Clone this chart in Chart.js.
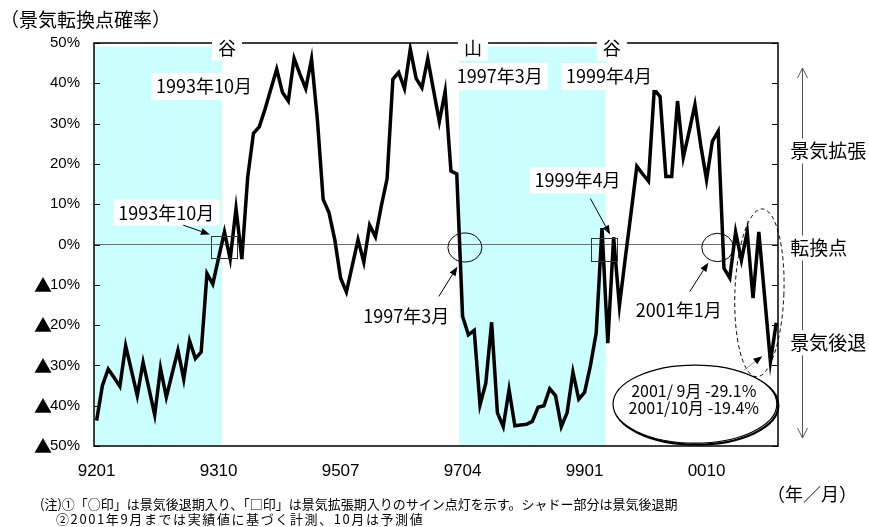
<!DOCTYPE html>
<html lang="ja">
<head>
<meta charset="utf-8">
<title>景気転換点確率</title>
<script src="https://cdn.jsdelivr.net/npm/chart.js@4/dist/chart.umd.min.js"></script>
<style>
  html, body { margin: 0; padding: 0; background: #fff; overflow: hidden; }
  canvas { display: block; }
</style>
</head>
<body>
<canvas id="c" width="869" height="527"></canvas>
<script>
// 月次カテゴリ：1992年1月〜2001年10月（YYMM表記）
const months = [];
for (let y = 1992, m = 1; y * 100 + m <= 200110; ) {
  months.push(String(y % 100).padStart(2, '0') + String(m).padStart(2, '0'));
  if (++m > 12) { m = 1; y++; }
}

// 景気転換点確率（％、マイナスは▲表示）
const probability = [
  -43.7, -35.0, -30.9, -33.0, -35.2, -25.1, -31.3, -37.5, -29.2, -35.7, -42.3, -30.7,
  -37.9, -32.0, -26.3, -33.4, -23.9, -28.3, -26.7,  -7.2,  -9.8,  -3.3,   3.1,  -3.6,
    8.9,  -3.6,  16.6,  27.6,  29.2,  33.6,  38.6,  43.5,  37.7,  35.6,  46.2,  42.3,
   38.7,  46.0,  31.1,  11.2,   7.9,   1.2,  -8.3, -11.8,  -5.3,   1.2,  -4.4,   4.8,
    1.9,   9.5,  16.3,  41.0,  42.7,  38.7,  48.5,  41.2,  38.9,  46.1,  38.3,  30.5,
   38.0,  18.2,  17.5, -17.8, -22.4, -21.3, -39.8, -34.4, -19.3, -41.8, -45.2, -36.0,
  -45.0, -44.8, -44.6, -43.9, -40.4, -40.0, -35.8, -37.5, -45.2, -41.7, -31.7, -38.4,
  -36.7, -30.1, -22.0,   4.1, -24.5,   1.8, -15.2,  -3.5,   7.8,  19.4,  17.5,  15.7,
   38.5,  36.7,  16.9,  16.9,  35.6,  21.6,  28.0,  34.7,  24.6,  16.1,  25.6,  28.1,
   -5.9,  -8.3,   3.1,  -3.9,   3.1, -13.3,   3.1, -13.0, -29.1, -19.4
];

// 横軸の目盛り月
const tickMonths = ['9201', '9310', '9507', '9704', '9901', '0010'];

// 景気後退期（シャドー部分）の開始月・終了月
const recessions = [['9201', '9310'], ['9704', '9904']];

const shadeTop = 49;
const shadeBottom = -50;

const JP = "'Noto Sans CJK JP', 'Noto Sans CJK SC', sans-serif";
const LAT = "'Liberation Sans', 'Noto Sans CJK JP', sans-serif";
const Y_TICK_SIZE = 15;
const Y_TICK_PAD = 14;

const tickIdx = tickMonths.map(m => months.indexOf(m));
const shade = [];
recessions.forEach(([s, e]) => {
  for (let i = months.indexOf(s); i <= months.indexOf(e); i++) shade.push({ x: i, y: [shadeBottom, shadeTop] });
});

const xMin = -0.45, xMax = months.length - 1 + 0.3;

// 注記の配置（横：月インデックス、縦：確率％）
const notes = {
  frameMarks: [['谷', 22.45], ['山', 64.8], ['谷', 88.7]],
  frameMarkV: 48.6,
  topDates: [['1993年10月', 18.5, 39.2], ['1997年3月', 69.4, 41.7], ['1999年4月', 88.2, 41.7]],
  lowDates: [['1993年10月', 12.0, 7.9], ['1997年3月', 53.3, -17.9], ['1999年4月', 82.8, 15.9], ['2001年1月', 100.2, -16.3]],
  arrows: [[14.9, 4.8, 19.5, 2.5], [58.9, -12.9, 62.1, -5.5], [85.0, 11.4, 88.4, 2.5], [102.1, -11.7, 105.3, -4.5]],
  squares: [[19.7, 2.1, 24.2, -3.35], [85.1, 1.7, 89.6, -4.1]],
  circles: [[63.4, -0.74, 2.93, 3.6], [106.9, -0.74, 2.72, 3.52]],
  recent: { i: 114.1, v: -12.0, ri: 4.22, rv: 20.84 },
  box: { i: 103.0, v: -39.6, ri: 14.1, rv: 9.68 },
  boxLines: [['2001/ 9月 -29.1%', 102.8, -36.3], ['2001/10月 -19.4%', 102.8, -40.6]],
  boxArrow: [111.4, -31.2, 114.6, -27.7],
  sideX: 119.4,
  sideArrowX: 121.4,
  sideArrowV: [43.8, -48.0],
  side: [['景気拡張', 23.2], ['転換点', -0.87], ['景気後退', -24.4]]
};

function tag(ctx, text, px, py, size, bg, padX, padY, align, spacing) {
  ctx.font = `${size}px ${JP}`;
  ctx.letterSpacing = (spacing || 0) + 'px';
  const w = ctx.measureText(text).width;
  const left = align === 'left' ? px : px - w / 2;
  if (bg) {
    ctx.fillStyle = '#fff';
    ctx.fillRect(left - padX, py - size / 2 - padY, w + padX * 2, size + padY * 2);
  }
  ctx.fillStyle = '#000';
  ctx.textAlign = 'left';
  ctx.textBaseline = 'middle';
  ctx.fillText(text, left, py);
  ctx.letterSpacing = '0px';
}

function arrow(ctx, x1, y1, x2, y2, color) {
  const a = Math.atan2(y2 - y1, x2 - x1), L = 9, W = 3.5;
  const bx = x2 - L * Math.cos(a), by = y2 - L * Math.sin(a);
  ctx.strokeStyle = color;
  ctx.lineWidth = 1;
  ctx.beginPath(); ctx.moveTo(x1, y1); ctx.lineTo(bx, by); ctx.stroke();
  ctx.fillStyle = '#000';
  ctx.beginPath();
  ctx.moveTo(x2, y2);
  ctx.lineTo(bx + W * Math.sin(a), by - W * Math.cos(a));
  ctx.lineTo(bx - W * Math.sin(a), by + W * Math.cos(a));
  ctx.closePath(); ctx.fill();
}

const decorations = {
  id: 'decorations',
  beforeDraw(c) {
    const ctx = c.ctx;
    ctx.save();
    ctx.fillStyle = '#fff';
    ctx.fillRect(0, 0, c.width, c.height);
    ctx.restore();
  },
  afterDraw(c) {
    const ctx = c.ctx;
    const x = c.scales.x, y = c.scales.y;
    const X = i => x.getPixelForValue(i);
    const Y = v => y.getPixelForValue(v);
    const RX = d => Math.abs(X(d) - X(0));
    const RY = d => Math.abs(Y(d) - Y(0));
    const L = x.left, R = x.right, T = y.top, B = y.bottom;
    ctx.save();

    // 枠線
    ctx.strokeStyle = '#000';
    ctx.lineWidth = 1.5;
    ctx.beginPath();
    ctx.moveTo(L, T); ctx.lineTo(R, T); ctx.lineTo(R, B); ctx.lineTo(L, B); ctx.closePath();
    ctx.stroke();

    // 内向きの目盛り（左右）
    ctx.lineWidth = 1;
    y.ticks.forEach(t => {
      const py = Math.round(Y(t.value)) + 0.5;
      ctx.beginPath();
      ctx.moveTo(L, py); ctx.lineTo(L + 6, py);
      ctx.moveTo(R - 6, py); ctx.lineTo(R, py);
      ctx.stroke();
    });

    // マイナス側目盛りの▲
    y.ticks.forEach(t => {
      if (t.value >= 0) return;
      ctx.font = `${Y_TICK_SIZE}px ${LAT}`;
      const w = ctx.measureText(t.label).width;
      ctx.font = `18px ${JP}`;
      ctx.fillStyle = '#000';
      ctx.textAlign = 'right';
      ctx.textBaseline = 'middle';
      ctx.fillText('▲', L - Y_TICK_PAD - w + 2, Y(t.value) + 0.5);
    });

    // 山・谷
    notes.frameMarks.forEach(([t, i]) => tag(ctx, t, X(i), Y(notes.frameMarkV), 18, true, 6, 3));
    notes.topDates.forEach(([t, i, v]) => tag(ctx, t, X(i), Y(v), 18, true, 5, 4.5));

    // サイン点灯の印
    ctx.strokeStyle = '#333';
    ctx.lineWidth = 1;
    notes.squares.forEach(([i1, v1, i2, v2]) => {
      ctx.strokeRect(Math.round(X(i1)) + 0.5, Math.round(Y(v1)) + 0.5, Math.round(X(i2) - X(i1)), Math.round(Y(v2) - Y(v1)));
    });
    ctx.strokeStyle = '#000';
    notes.circles.forEach(([i, v, ri, rv]) => {
      ctx.beginPath();
      ctx.ellipse(X(i), Y(v), RX(ri), RY(rv), 0, 0, Math.PI * 2);
      ctx.stroke();
    });

    notes.lowDates.forEach(([t, i, v]) => tag(ctx, t, X(i), Y(v), 18, true, 5, 4));
    notes.arrows.forEach(([i1, v1, i2, v2]) => arrow(ctx, X(i1), Y(v1), X(i2), Y(v2), '#000'));

    // 直近の動き（破線の楕円）
    const r = notes.recent;
    ctx.strokeStyle = '#000';
    ctx.lineWidth = 1;
    ctx.setLineDash([4, 3]);
    ctx.beginPath();
    ctx.ellipse(X(r.i), Y(r.v), RX(r.ri), RY(r.rv), 0.035, 0, Math.PI * 2);
    ctx.stroke();
    ctx.setLineDash([]);

    // 数値の吹き出し
    const b = notes.box;
    ctx.beginPath();
    ctx.ellipse(X(b.i) + 1.5, Y(b.v) + 1.5, RX(b.ri), RY(b.rv), 0, 0, Math.PI * 2);
    ctx.lineWidth = 2.2;
    ctx.stroke();
    ctx.beginPath();
    ctx.ellipse(X(b.i), Y(b.v), RX(b.ri), RY(b.rv), 0, 0, Math.PI * 2);
    ctx.fillStyle = '#fff';
    ctx.fill();
    ctx.lineWidth = 1.2;
    ctx.stroke();
    notes.boxLines.forEach(([t, i, v]) => tag(ctx, t, X(i), Y(v), 16, false));
    const ba = notes.boxArrow;
    arrow(ctx, X(ba[0]), Y(ba[1]), X(ba[2]), Y(ba[3]), '#999');

    // 右側の説明と矢印
    const ax = Math.round(X(notes.sideArrowX)) + 0.5;
    const yTop = Y(notes.sideArrowV[0]), yBot = Y(notes.sideArrowV[1]);
    ctx.strokeStyle = '#555';
    ctx.lineWidth = 1;
    ctx.beginPath();
    ctx.moveTo(ax, yTop); ctx.lineTo(ax, yBot);
    ctx.moveTo(ax - 5, yTop + 10); ctx.lineTo(ax, yTop); ctx.lineTo(ax + 5, yTop + 10);
    ctx.moveTo(ax - 5, yBot - 10); ctx.lineTo(ax, yBot); ctx.lineTo(ax + 5, yBot - 10);
    ctx.stroke();
    notes.side.forEach(([t, v]) => tag(ctx, t, X(notes.sideX), Y(v), 19, true, 2, 3, 'left'));

    // 表題・単位・注記
    tag(ctx, '（景気転換点確率）', 0, 20, 19, false, 0, 0, 'left');
    tag(ctx, '（年／月）', 812, 494, 18, false);
    tag(ctx, '(注)①「○印」は景気後退期入り、「□印」は景気拡張期入りのサイン点灯を示す。シャドー部分は景気後退期', 40, 504, 13, false, 0, 0, 'left');
    tag(ctx, '②2001年9月までは実績値に基づく計測、10月は予測値', 56, 519, 13, false, 0, 0, 'left', 1.6);

    ctx.restore();
  }
};

Chart.defaults.color = '#000';

new Chart(document.getElementById('c'), {
  type: 'line',
  data: {
    datasets: [
      {
        type: 'line',
        data: probability.map((v, i) => ({ x: i, y: v })),
        borderColor: '#000',
        borderWidth: 3.5,
        borderJoinStyle: 'miter',
        pointRadius: 0,
        tension: 0,
        order: 1
      },
      {
        type: 'line',
        data: [{ x: xMin, y: 0 }, { x: xMax, y: 0 }],
        borderColor: '#6e6e6e',
        borderWidth: 1,
        pointRadius: 0,
        order: 2
      },
      {
        type: 'bar',
        data: shade,
        backgroundColor: '#ccffff',
        borderWidth: 0,
        barThickness: 6.4,
        order: 3
      }
    ]
  },
  options: {
    responsive: false,
    devicePixelRatio: 1,
    animation: false,
    events: [],
    layout: { padding: { left: 0, right: 91, top: 43, bottom: 0 } },
    plugins: { legend: { display: false }, tooltip: { enabled: false } },
    scales: {
      x: {
        type: 'linear',
        min: xMin,
        max: xMax,
        offset: false,
        grid: { display: false, drawTicks: false },
        border: { display: false },
        afterBuildTicks: s => { s.ticks = tickIdx.map(v => ({ value: v })); },
        afterFit: s => { s.height = 81; },
        ticks: {
          autoSkip: false,
          maxRotation: 0,
          padding: 15,
          font: { family: LAT, size: 17 },
          callback: v => months[v]
        }
      },
      y: {
        min: -50,
        max: 50,
        grid: { display: false, drawTicks: false },
        border: { display: false },
        afterFit: s => { s.width = 94; },
        ticks: {
          stepSize: 10,
          padding: Y_TICK_PAD,
          font: { family: LAT, size: Y_TICK_SIZE },
          callback: v => Math.abs(v) + '%'
        }
      }
    }
  },
  plugins: [decorations]
});
</script>
</body>
</html>
